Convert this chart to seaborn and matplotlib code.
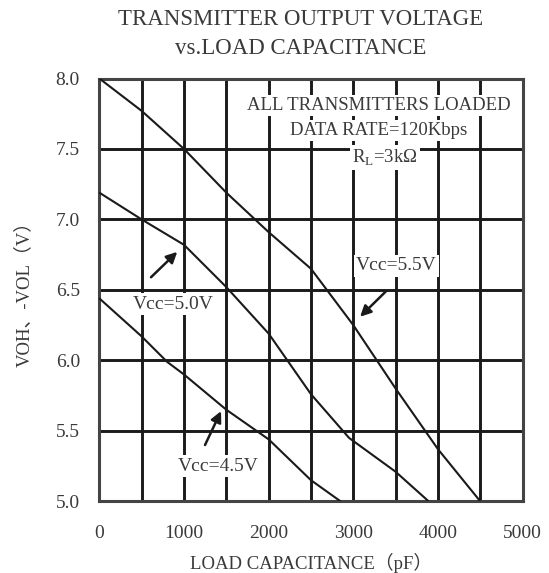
import pandas as pd
import matplotlib.pyplot as plt
import seaborn as sns

# dados (capacitância em pF, tensão em V)
cap_55 = [0, 500, 1000, 1500, 2000, 2500, 3000, 3500, 4000, 4500]
volt_55 = [8.0, 7.77, 7.5, 7.19, 6.91, 6.65, 6.25, 5.8, 5.37, 5.0]

cap_50 = [0, 500, 1000, 1500, 2000, 2500, 2950, 3500, 3890]
volt_50 = [7.19, 7.0, 6.82, 6.52, 6.19, 5.76, 5.45, 5.21, 5.0]

cap_45 = [0, 500, 800, 1000, 1500, 2000, 2500, 2850]
volt_45 = [6.44, 6.17, 5.99, 5.9, 5.65, 5.44, 5.15, 5.0]

x_ticks = [0, 1000, 2000, 3000, 4000, 5000]
y_ticks = [5.0, 5.5, 6.0, 6.5, 7.0, 7.5, 8.0]

df = pd.concat([
    pd.DataFrame({'cap': cap_55, 'volt': volt_55, 'vcc': '5.5'}),
    pd.DataFrame({'cap': cap_50, 'volt': volt_50, 'vcc': '5.0'}),
    pd.DataFrame({'cap': cap_45, 'volt': volt_45, 'vcc': '4.5'}),
])

sns.set_style('white')
plt.rcParams['font.family'] = ['Liberation Serif', 'Noto Sans CJK SC']
plt.rcParams['mathtext.fontset'] = 'custom'
plt.rcParams['mathtext.rm'] = 'Liberation Serif'

cor_texto = '#3a3a3a'

fig = plt.figure(figsize=(5.49, 5.73), dpi=100)
ax = fig.add_axes([0.181, 0.125, 0.771, 0.738])

sns.lineplot(data=df, x='cap', y='volt', units='vcc', estimator=None,
             color='#1a1a1a', linewidth=1.5, sort=False, ax=ax, zorder=3)

ax.set_xlim(0, 5000)
ax.set_ylim(5.0, 8.0)
ax.set_xticks(x_ticks)
ax.set_xticklabels([str(t) for t in x_ticks], fontsize=14, color=cor_texto)
ax.set_yticks(y_ticks)
ax.set_yticklabels([f'{t:.1f}' for t in y_ticks], fontsize=14, color=cor_texto)
ax.set_xticks(range(500, 5000, 1000), minor=True)
ax.tick_params(length=0, which='both')
ax.tick_params(axis='x', pad=17)
ax.tick_params(axis='y', pad=14)
ax.grid(True, which='both', color='#1a1a1a', linewidth=2.1, zorder=1)
ax.set_axisbelow(True)
for s in ax.spines.values():
    s.set_color('#444444')
    s.set_linewidth(2.2)

ax.set_xlabel('LOAD CAPACITANCE（pF）', fontsize=13.5, color=cor_texto, labelpad=8)
ax.set_ylabel('VOH、-VOL（V）', fontsize=13.5, color=cor_texto, labelpad=16)
fig.text(0.548, 0.985, 'TRANSMITTER OUTPUT VOLTAGE\nvs.LOAD CAPACITANCE',
         ha='center', va='top', fontsize=16.5, color=cor_texto, linespacing=1.5)

caixa = dict(fc='white', ec='none', pad=1.5)
ax.text(3300, 7.81, 'ALL TRANSMITTERS LOADED', ha='center', va='center',
        fontsize=13.5, color=cor_texto, bbox=caixa, zorder=4)
ax.text(3300, 7.63, 'DATA RATE=120Kbps', ha='center', va='center',
        fontsize=13.5, color=cor_texto, bbox=caixa, zorder=4)
ax.text(3370, 7.44, 'R$_{\\mathrm{L}}$=3kΩ', ha='center', va='center',
        fontsize=13.5, color=cor_texto, bbox=caixa, zorder=4)

# rótulos das curvas
ax.text(3510, 6.67, 'Vcc=5.5V', ha='center', va='center',
        fontsize=14, color=cor_texto, bbox=caixa, zorder=4)
ax.text(875, 6.40, 'Vcc=5.0V', ha='center', va='center',
        fontsize=14, color=cor_texto, bbox=caixa, zorder=4)
ax.text(1405, 5.25, 'Vcc=4.5V', ha='center', va='center',
        fontsize=14, color=cor_texto, bbox=caixa, zorder=4)

# setas (ponta, cauda)
seta = dict(arrowstyle='-|>', color='#1a1a1a', lw=1.8, mutation_scale=16,
            shrinkA=0, shrinkB=0)
ax.annotate('', xy=(3080, 6.31), xytext=(3385, 6.49), arrowprops=seta, zorder=4)
ax.annotate('', xy=(920, 6.77), xytext=(610, 6.59), arrowprops=seta, zorder=4)
ax.annotate('', xy=(1437, 5.64), xytext=(1248, 5.40), arrowprops=seta, zorder=4)

plt.savefig('out.png', dpi=100)
